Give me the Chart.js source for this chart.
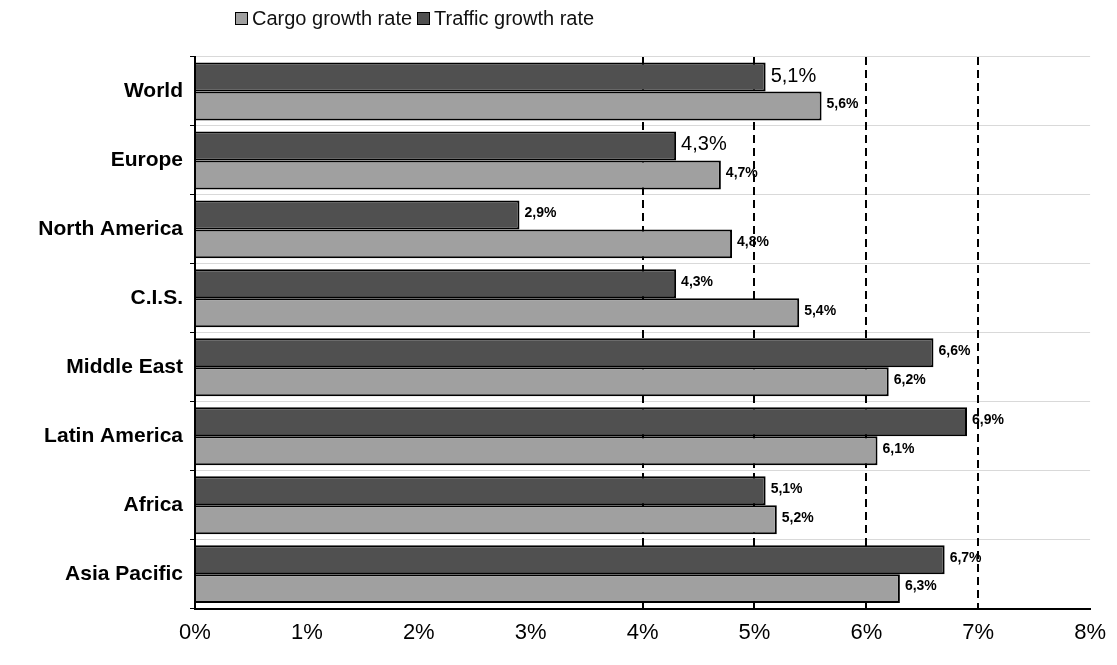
<!DOCTYPE html>
<html>
<head>
<meta charset="utf-8">
<script src="https://cdn.jsdelivr.net/npm/chart.js@4/dist/chart.umd.min.js"></script>
<style>
  body { margin: 0; background: #fff; }
  #wrap { position: relative; width: 1117px; height: 665px; }
  #legend {
    position: absolute; top: 7px; left: 230px;
    font-family: "Liberation Sans", Arial, sans-serif; font-size: 20px; color: #111;
    display: flex; align-items: center; white-space: nowrap;
  }
  #legend span.box {
    display: inline-block; width: 11px; height: 11px; border: 1px solid #000;
    margin-right: 4px; margin-left: 5px;
  }
</style>
</head>
<body>
<div id="wrap">
  <div id="legend"></div>
  <canvas id="myChart" width="1117" height="665"></canvas>
</div>
<script>
// Data dari gambar
const regions = ["World", "Europe", "North America", "C.I.S.", "Middle East", "Latin America", "Africa", "Asia Pacific"];
const trafficGrowth = [5.1, 4.3, 2.9, 4.3, 6.6, 6.9, 5.1, 6.7];
const cargoGrowth = [5.6, 4.7, 4.8, 5.4, 6.2, 6.1, 5.2, 6.3];
const xTicks = [0, 1, 2, 3, 4, 5, 6, 7, 8];

const trafficColor = "#505050";
const cargoColor = "#a0a0a0";

// Legend dibuat manual (urutan: Cargo dulu, lalu Traffic)
const legendItems = [
  { label: "Cargo growth rate", color: cargoColor },
  { label: "Traffic growth rate", color: trafficColor },
];
document.getElementById("legend").innerHTML = legendItems
  .map((it) => `<span class="box" style="background:${it.color}"></span><span>${it.label}</span>`)
  .join("");

// Plugin untuk menulis nilai di ujung bar
const valueLabels = {
  id: "valueLabels",
  afterDatasetsDraw(chart) {
    const ctx = chart.ctx;
    chart.data.datasets.forEach((ds, di) => {
      const meta = chart.getDatasetMeta(di);
      meta.data.forEach((bar, i) => {
        const big = di === 0 && i < 2;
        ctx.save();
        ctx.font = big ? "20px 'Liberation Sans', Arial" : "bold 14px 'Liberation Sans', Arial";
        ctx.fillStyle = "#000";
        ctx.textBaseline = "middle";
        ctx.textAlign = "left";
        const txt = ds.data[i].toFixed(1).replace(".", ",") + "%";
        ctx.fillText(txt, bar.x + 5, bar.y - (big ? 1 : 2));
        ctx.restore();
      });
    });
  },
};

const data = {
  labels: regions,
  datasets: [
    {
      label: "Traffic growth rate",
      data: trafficGrowth,
      backgroundColor: trafficColor,
      borderColor: "#000",
      borderWidth: 2,
      categoryPercentage: 0.84,
      barPercentage: 1.0,
    },
    {
      label: "Cargo growth rate",
      data: cargoGrowth,
      backgroundColor: cargoColor,
      borderColor: "#000",
      borderWidth: 2,
      categoryPercentage: 0.84,
      barPercentage: 1.0,
    },
  ],
};

const config = {
  type: "bar",
  data: data,
  options: {
    indexAxis: "y",
    responsive: false,
    animation: false,
    layout: { padding: { top: 57, left: 5, right: 22, bottom: 8 } },
    plugins: {
      legend: { display: false },
      tooltip: { enabled: false },
    },
    scales: {
      x: {
        min: 0,
        max: 8,
        afterBuildTicks: (scale) => {
          scale.ticks = xTicks.map((v) => ({ value: v }));
        },
        ticks: {
          color: "#000",
          padding: 11,
          font: { family: "'Liberation Sans', Arial", size: 22 },
          callback: (v) => v + "%",
        },
        grid: {
          drawTicks: false,
          lineWidth: 2,
          color: (c) => (c.tick && c.tick.value >= 4 && c.tick.value <= 7 ? "#000" : "rgba(0,0,0,0)"),
        },
        border: { display: true, color: "#000", width: 2, dash: [8, 5] },
      },
      y: {
        afterFit: (scale) => {
          scale.width = 190;
        },
        ticks: {
          color: "#000",
          padding: 7,
          font: { family: "'Liberation Sans', Arial", size: 21, weight: "bold" },
        },
        grid: {
          offset: true,
          color: "rgba(0,0,0,0.15)",
          tickColor: "#000",
          tickLength: 5,
          lineWidth: 1,
        },
        border: { display: true, color: "#000", width: 2 },
      },
    },
  },
  plugins: [valueLabels],
};

new Chart(document.getElementById("myChart"), config);
</script>
</body>
</html>
